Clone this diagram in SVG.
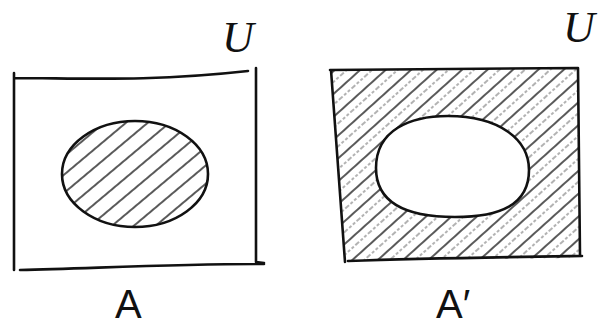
<svg xmlns="http://www.w3.org/2000/svg" width="602" height="331" viewBox="0 0 602 331">
<style>
.ink{fill:none;stroke:#111;stroke-width:2.6;stroke-linecap:round;stroke-linejoin:round}
.hatch{stroke:#222;stroke-width:1.6;stroke-linecap:round}
.lite{stroke:#666;stroke-width:1;stroke-dasharray:3 2}
.uni{font-family:"Liberation Serif",serif;font-style:italic;fill:#111}
.set{font-family:"Liberation Sans",sans-serif;fill:#111}
</style>
<defs>
<clipPath id="ellA"><ellipse cx="135" cy="174" rx="73" ry="53"/></clipPath>
<clipPath id="compl"><path clip-rule="evenodd" d="M331,70 L578,68 L580,258 L346,260 Z M376,168 C376,130 410,116 448,116 C500,116 529,140 529,170 C529,205 500,217 455,217 C410,217 376,205 376,168 Z"/></clipPath>
<pattern id="hl" patternUnits="userSpaceOnUse" width="14" height="14" patternTransform="rotate(-40)">
<line x1="0" y1="7" x2="14" y2="7" class="hatch"/>
</pattern>
<pattern id="hr" patternUnits="userSpaceOnUse" width="17" height="17" patternTransform="rotate(-42)">
<line x1="0" y1="4" x2="17" y2="4" class="hatch"/>
<line x1="0" y1="12" x2="17" y2="12" class="lite"/>
</pattern>
</defs>
<g id="universeA">
<path class="ink" d="M14,73 L14,270 M14,78 C80,78 150,82 248,71 M256,68 L256,262 L264,263 M20,270 C100,268 180,264 264,264"/>
<text class="uni" x="222" y="52" font-size="44">U</text>
</g>
<g id="setA">
<rect x="55" y="115" width="160" height="120" fill="url(#hl)" clip-path="url(#ellA)"/>
<ellipse class="ink" cx="135" cy="174" rx="73" ry="53"/>
<text class="set" x="115" y="318" font-size="40">A</text>
</g>
<g id="universeB">
<rect x="330" y="66" width="252" height="196" fill="url(#hr)" clip-path="url(#compl)"/>
<path class="ink" d="M331,70 L345,262 M330,70 C420,70 500,69 578,68 L580,256 M348,261 C430,258 510,257 582,256"/>
<text class="uni" x="563" y="42" font-size="44">U</text>
</g>
<g id="setAprime">
<path class="ink" d="M376,168 C376,130 410,116 448,116 C500,116 529,140 529,170 C529,205 500,217 455,217 C410,217 376,205 376,168 Z"/>
<text class="set" x="436" y="318" font-size="40">A′</text>
</g>
</svg>
